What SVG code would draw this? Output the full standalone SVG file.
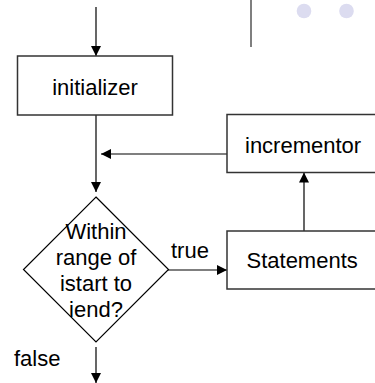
<svg xmlns="http://www.w3.org/2000/svg" width="375" height="383" viewBox="0 0 375 383">
<style>
.box{fill:#fff;stroke:#333;stroke-width:1.5}
.ln{fill:none;stroke:#000;stroke-width:1.2}
text{font-family:"Liberation Sans",Arial,sans-serif;font-size:22px;fill:#000}
.c{text-anchor:middle}
</style>
<defs>
<marker id="ah" viewBox="0 0 10 10" refX="10" refY="5" markerWidth="10" markerHeight="10" markerUnits="userSpaceOnUse" orient="auto">
<path d="M0,0 L10,5 L0,10 z" fill="#000"/>
</marker>
</defs>
<g id="decor">
<line x1="251" y1="0" x2="251" y2="47" stroke="#555" stroke-width="1.5"/>
<circle cx="304" cy="11" r="7.3" fill="#dcdcf0"/>
<circle cx="346.5" cy="11" r="7.3" fill="#dcdcf0"/>
</g>
<g id="connectors">
<line class="ln" x1="96" y1="7" x2="96" y2="56" marker-end="url(#ah)"/>
<line class="ln" x1="96" y1="115" x2="96" y2="192" marker-end="url(#ah)"/>
<line class="ln" x1="227" y1="154" x2="101" y2="154" marker-end="url(#ah)"/>
<line class="ln" x1="168" y1="270" x2="227" y2="270" marker-end="url(#ah)"/>
<line class="ln" x1="304" y1="231" x2="304" y2="172.5" marker-end="url(#ah)"/>
<line class="ln" x1="96" y1="347" x2="96" y2="383" marker-end="url(#ah)"/>
<text x="171" y="258">true</text>
<text x="14" y="366">false</text>
</g>
<g id="initializer">
<rect class="box" x="17.5" y="56" width="155" height="59"/>
<text class="c" x="95" y="95">initializer</text>
</g>
<g id="incrementor">
<rect class="box" x="227" y="114.5" width="160" height="58"/>
<text x="245" y="153">incrementor</text>
</g>
<g id="statements">
<rect class="box" x="227" y="231" width="160" height="58"/>
<text x="246.5" y="268">Statements</text>
</g>
<g id="decision">
<path d="M96,197 L168.5,269.5 L96,342 L23.5,269.5 Z" fill="none" stroke="#000" stroke-width="1.2"/>
<text class="c" x="96" y="239">Within</text>
<text class="c" x="96" y="265">range of</text>
<text class="c" x="96" y="291">istart to</text>
<text class="c" x="96" y="317">iend?</text>
</g>
</svg>
